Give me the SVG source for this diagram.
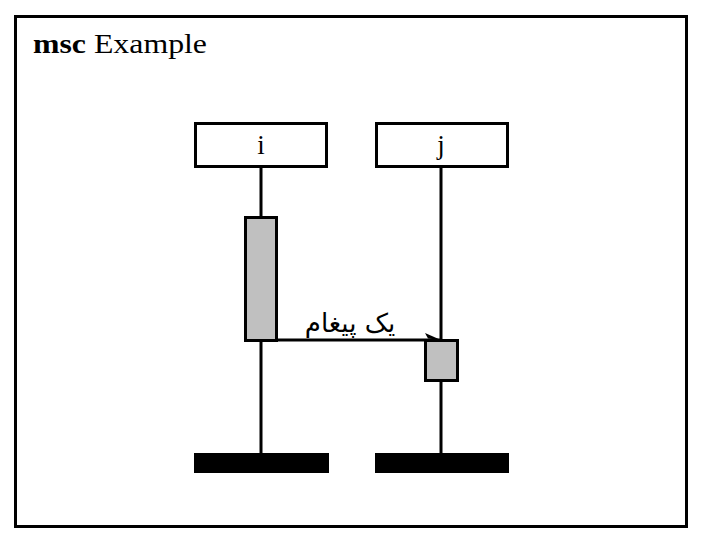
<svg xmlns="http://www.w3.org/2000/svg" width="706" height="545" viewBox="0 0 706 545">
<style>
.frame{fill:#fff;stroke:#000;stroke-width:3}
.box{fill:#fff;stroke:#000;stroke-width:3}
.act{fill:#c0c0c0;stroke:#000;stroke-width:3}
.line{stroke:#000;stroke-width:3;fill:none}
.end{fill:#000}
.serif{font-family:"Liberation Serif","DejaVu Serif",serif;font-size:27px;fill:#000}
.ar{font-family:"DejaVu Sans","Noto Sans",sans-serif;font-size:26px;fill:#000}
</style>
<rect class="frame" x="15.5" y="16.5" width="671" height="510"/>
<text class="serif" x="33" y="53" textLength="174" lengthAdjust="spacingAndGlyphs"><tspan font-weight="bold">msc</tspan> Example</text>
<g id="connectors">
<line class="line" x1="261" y1="166" x2="261" y2="454"/>
<line class="line" x1="441" y1="166" x2="441" y2="454"/>
<line class="line" x1="277" y1="340" x2="441" y2="340"/>
<path d="M441 340 L425 333 L428 338.5 Z" fill="#000"/>
<text class="ar" x="350" y="332" text-anchor="middle" direction="rtl">یک پیغام</text>
</g>
<g id="i">
<rect class="box" x="195.5" y="123.5" width="131" height="43"/>
<text class="serif" x="261" y="154" text-anchor="middle">i</text>
<rect class="act" x="245.5" y="217.5" width="31" height="123"/>
<rect class="end" x="194" y="453" width="135" height="20"/>
</g>
<g id="j">
<rect class="box" x="376.5" y="123.5" width="131" height="43"/>
<text class="serif" x="441" y="154" text-anchor="middle">j</text>
<rect class="act" x="425.5" y="340.5" width="32" height="40"/>
<rect class="end" x="375" y="453" width="134" height="20"/>
</g>
</svg>
